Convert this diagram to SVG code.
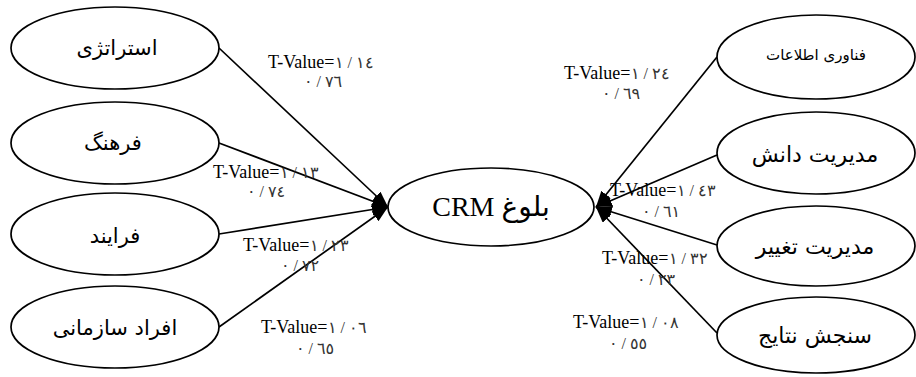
<svg xmlns="http://www.w3.org/2000/svg" width="916" height="377" viewBox="0 0 916 377">
<style>
.node ellipse{fill:#fff;stroke:#000;stroke-width:1.7}
.fa{font-family:"DejaVu Sans",sans-serif;font-size:21px;fill:#000;text-anchor:middle}
.lbl{font-family:"Liberation Serif","DejaVu Serif",serif;font-size:18px;fill:#000;text-anchor:middle;direction:ltr;unicode-bidi:bidi-override}
.num{font-family:"Liberation Serif","DejaVu Sans",serif;font-size:16px;fill:#333;text-anchor:middle;direction:ltr;unicode-bidi:bidi-override;letter-spacing:3px}
.d{font-size:16px;fill:#333;letter-spacing:3px}
#connectors line{stroke:#000;stroke-width:1.7;marker-end:url(#ah)}
</style>
<defs>
<marker id="ah" markerUnits="userSpaceOnUse" markerWidth="18" markerHeight="14" refX="16" refY="6" orient="auto">
<path d="M0,0 L16,6 L0,12 z" fill="#000"/>
</marker>
</defs>
<rect width="916" height="377" fill="#fff"/>
<g id="connectors">
<line x1="219" y1="48" x2="388" y2="207"/>
<line x1="219" y1="143" x2="388" y2="207"/>
<line x1="219" y1="234" x2="388" y2="207"/>
<line x1="219" y1="327" x2="388" y2="207"/>
<line x1="717" y1="57" x2="596" y2="207"/>
<line x1="717" y1="155" x2="596" y2="207"/>
<line x1="717" y1="245" x2="596" y2="207"/>
<line x1="717" y1="333" x2="596" y2="207"/>
</g>
<g id="labels">
<text class="lbl" x="321" y="68">T-Value=<tspan class="d">١ / ١٤</tspan></text>
<text class="num" x="323" y="87">٠ / ٧٦</text>
<text class="lbl" x="266" y="178">T-Value=<tspan class="d">١ / ١٣</tspan></text>
<text class="num" x="266" y="197">٠ / ٧٤</text>
<text class="lbl" x="296" y="251">T-Value=<tspan class="d">١ / ٢٣</tspan></text>
<text class="num" x="300" y="271">٠ / ٧٢</text>
<text class="lbl" x="314" y="333">T-Value=<tspan class="d">١ / ٠٦</tspan></text>
<text class="num" x="315" y="354">٠ / ٦٥</text>
<text class="lbl" x="617" y="79">T-Value=<tspan class="d">١ / ٢٤</tspan></text>
<text class="num" x="621" y="99">٠ / ٦٩</text>
<text class="lbl" x="663" y="196">T-Value=<tspan class="d">١ / ٤٣</tspan></text>
<text class="num" x="661" y="217">٠ / ٦١</text>
<text class="lbl" x="655" y="264">T-Value=<tspan class="d">١ / ٣٢</tspan></text>
<text class="num" x="656" y="285">٠ / ٢٣</text>
<text class="lbl" x="626" y="328">T-Value=<tspan class="d">١ / ٠٨</tspan></text>
<text class="num" x="628" y="349">٠ / ٥٥</text>
</g>
<g id="n-strategy" class="node"><ellipse cx="115" cy="48" rx="104" ry="41"/><text class="fa" x="117" y="55">استراتژی</text></g>
<g id="n-culture" class="node"><ellipse cx="115" cy="143" rx="104" ry="41"/><text class="fa" x="113" y="150">فرهنگ</text></g>
<g id="n-process" class="node"><ellipse cx="115" cy="234" rx="104" ry="41"/><text class="fa" x="115" y="243">فرایند</text></g>
<g id="n-people" class="node"><ellipse cx="115" cy="327" rx="104" ry="41"/><text class="fa" x="115" y="335">افراد سازمانی</text></g>
<g id="n-crm" class="node"><ellipse cx="491" cy="207" rx="103" ry="39"/><text x="491" y="216" direction="rtl" style="font-family:'Liberation Serif','DejaVu Sans',serif;font-size:28px;text-anchor:middle;fill:#000">بلوغ CRM</text></g>
<g id="n-it" class="node"><ellipse cx="816" cy="57" rx="99" ry="42"/><text class="fa" x="816" y="60" style="font-size:15px">فناوری اطلاعات</text></g>
<g id="n-km" class="node"><ellipse cx="816" cy="153" rx="99" ry="41"/><text class="fa" x="815" y="162" style="font-size:22px">مدیریت دانش</text></g>
<g id="n-cm" class="node"><ellipse cx="816" cy="246" rx="99" ry="40"/><text class="fa" x="815" y="254" style="font-size:22px">مدیریت تغییر</text></g>
<g id="n-mr" class="node"><ellipse cx="816" cy="335" rx="99" ry="38"/><text class="fa" x="815" y="343" style="font-size:22px">سنجش نتایج</text></g>
</svg>
